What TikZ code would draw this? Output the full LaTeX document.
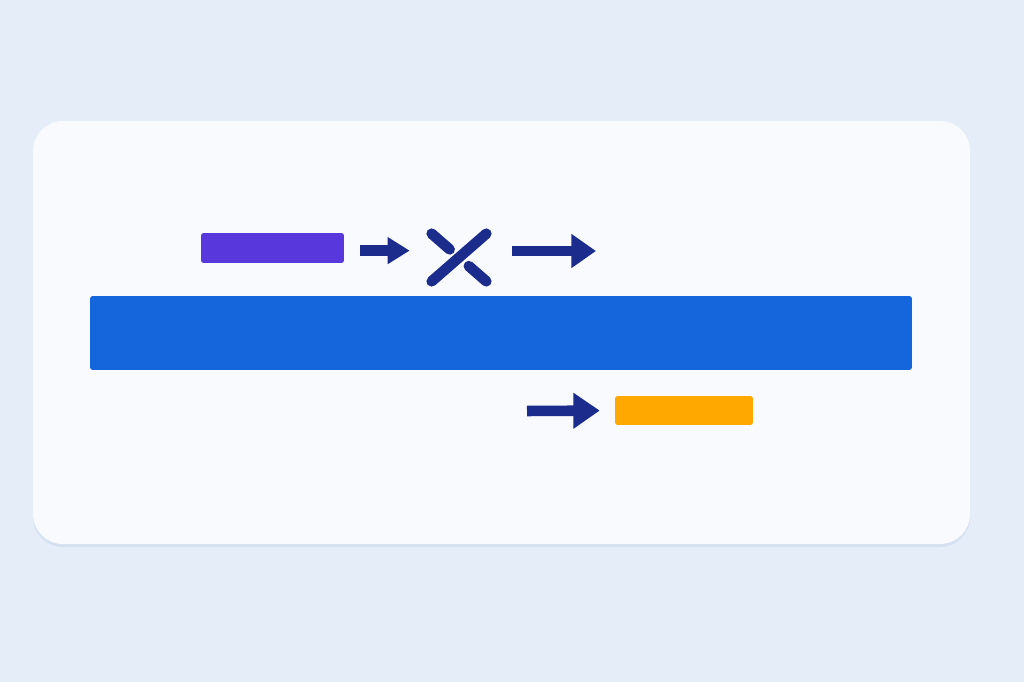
\documentclass[tikz,border=0pt]{standalone}
\usetikzlibrary{arrows.meta,calc}
\definecolor{bgblue}{HTML}{E4EDF8}
\definecolor{cardwhite}{HTML}{F8FAFD}
\definecolor{cardedge}{HTML}{D5E1F1}
\definecolor{barviolet}{HTML}{5837DC}
\definecolor{barblue}{HTML}{1565DC}
\definecolor{barorange}{HTML}{FFA800}
\definecolor{navyarrow}{HTML}{1C2C8C}
\tikzset{
	bar/.style={rectangle, rounded corners=1.5pt, inner sep=0pt},
	flow/.style={draw=navyarrow, line width=6pt},
	stroke/.style={draw=navyarrow, line width=6pt, line cap=round}
}
\begin{document}
\begin{tikzpicture}[x=0.02cm,y=-0.02cm]
	\fill[bgblue] (0,0) rectangle (1024,682);
	\fill[cardedge, rounded corners=17pt] (33,124) rectangle (970,547);
	\fill[cardwhite, rounded corners=17pt] (33,121) rectangle (970,544);

	\node[bar, fill=barviolet, minimum width=2.86cm, minimum height=0.6cm] (sender) at (272.5,248) {};
	\node[bar, fill=barblue, minimum width=16.44cm, minimum height=1.48cm] (channel) at (501,333) {};
	\node[bar, fill=barorange, minimum width=2.76cm, minimum height=0.58cm] (receiver) at (684,410.5) {};
	\node[minimum width=1.08cm, minimum height=0.94cm, inner sep=0pt] (block) at (459,257.5) {};
	\coordinate (out) at (596,251);
	\coordinate (in) at (527,411);

	% blocked crossing
	\draw[stroke] (block.south west) -- (block.north east);
	\draw[stroke] (block.north west) -- ($(block.north west)!0.33!(block.south east)$);
	\draw[stroke] ($(block.north west)!0.68!(block.south east)$) -- (block.south east);

	\draw[flow, -{Triangle[length=12.5pt,width=14.5pt]}, shorten <=9pt, shorten >=12.5pt] ([yshift=-1.5pt]sender.east) -- ([yshift=-1.5pt]sender.east -| block.west);
	\draw[flow, -{Triangle[length=14pt,width=18.5pt]}, shorten <=14.5pt] (block.east |- out) -- (out);
	\draw[flow, -{Triangle[length=15pt,width=19.5pt]}, shorten >=8.5pt] (in) -- (receiver.west);
\end{tikzpicture}
\end{document}
